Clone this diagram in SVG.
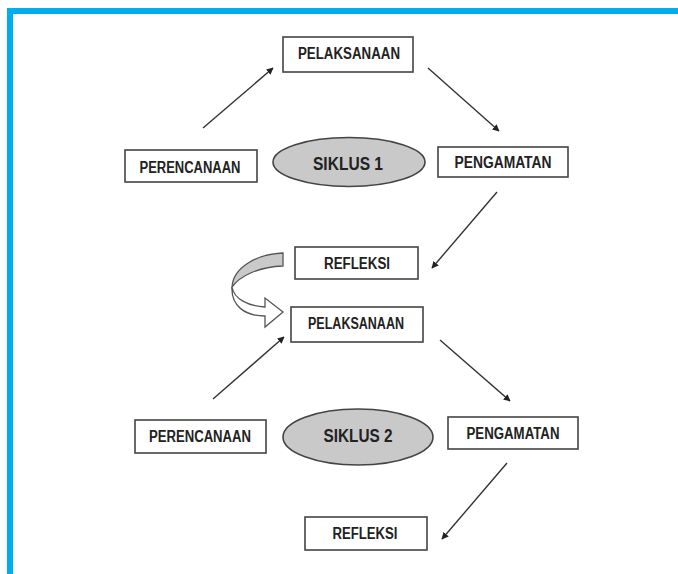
<svg xmlns="http://www.w3.org/2000/svg" width="678" height="574" viewBox="0 0 678 574">
<defs>
<style>
.box{fill:#fff;stroke:#444;stroke-width:1.6}
.ell{fill:#c9c9c9;stroke:#444;stroke-width:1.6}
.t{font-family:"Liberation Sans",Arial,sans-serif;font-weight:bold;font-size:16px;fill:#222;text-anchor:middle}
.e{font-size:17.5px}
.c{stroke:#333;stroke-width:1.4;fill:none;marker-end:url(#ah)}
</style>
<marker id="ah" viewBox="0 0 10 10" refX="9" refY="5" markerWidth="7" markerHeight="7" markerUnits="userSpaceOnUse" orient="auto">
<path d="M0,0 L10,5 L0,10 Z" fill="#222"/>
</marker>
</defs>
<rect width="678" height="574" fill="#fff"/>
<path d="M10,574 V11 H678" fill="none" stroke="#00adef" stroke-width="6"/>

<g id="connectors">
<line class="c" x1="203" y1="128" x2="273" y2="68"/>
<line class="c" x1="428" y1="68" x2="499" y2="131"/>
<line class="c" x1="497" y1="192" x2="432" y2="268"/>
<line class="c" x1="213" y1="399" x2="284" y2="337"/>
<line class="c" x1="440" y1="340" x2="510" y2="401"/>
<line class="c" x1="507" y1="463" x2="442" y2="539"/>
<g id="curved-arrow">
<path d="M283,253 C256,254 233,268 232,287 C240,276 258,267 283,266 Z" fill="#c9c9c9" stroke="#555" stroke-width="1.3"/>
<path d="M232,287 C234,299 248,306 265,307 L265,298 L283,312 L265,327 L265,316 C245,316 231,306 232,287 Z" fill="#fff" stroke="#555" stroke-width="1.3"/>
</g>
</g>

<g id="pelaksanaan1"><rect class="box" x="283" y="37" width="130" height="35"/><text class="t" x="349" y="59" textLength="102" lengthAdjust="spacingAndGlyphs">PELAKSANAAN</text></g>
<g id="perencanaan1"><rect class="box" x="125" y="150" width="132" height="32"/><text class="t" x="190" y="173" textLength="101" lengthAdjust="spacingAndGlyphs">PERENCANAAN</text></g>
<g id="siklus1"><ellipse class="ell" cx="349" cy="162" rx="76" ry="24.5"/><text class="t e" x="348" y="170" textLength="70" lengthAdjust="spacingAndGlyphs">SIKLUS 1</text></g>
<g id="pengamatan1"><rect class="box" x="438" y="147" width="130" height="30"/><text class="t" x="503" y="168" textLength="97" lengthAdjust="spacingAndGlyphs">PENGAMATAN</text></g>
<g id="refleksi1"><rect class="box" x="295" y="247" width="123" height="32"/><text class="t" x="357" y="269" textLength="66" lengthAdjust="spacingAndGlyphs">REFLEKSI</text></g>

<g id="pelaksanaan2"><rect class="box" x="291" y="307" width="132" height="35"/><text class="t" x="356" y="329" textLength="96" lengthAdjust="spacingAndGlyphs">PELAKSANAAN</text></g>
<g id="perencanaan2"><rect class="box" x="135" y="420" width="131" height="33"/><text class="t" x="200" y="442" textLength="102" lengthAdjust="spacingAndGlyphs">PERENCANAAN</text></g>
<g id="siklus2"><ellipse class="ell" cx="358" cy="437" rx="75" ry="28"/><text class="t e" x="358" y="442" textLength="69" lengthAdjust="spacingAndGlyphs">SIKLUS 2</text></g>
<g id="pengamatan2"><rect class="box" x="448" y="417" width="130" height="32"/><text class="t" x="513" y="439" textLength="93" lengthAdjust="spacingAndGlyphs">PENGAMATAN</text></g>
<g id="refleksi2"><rect class="box" x="305" y="517" width="122" height="33"/><text class="t" x="365" y="539" textLength="65" lengthAdjust="spacingAndGlyphs">REFLEKSI</text></g>
</svg>
